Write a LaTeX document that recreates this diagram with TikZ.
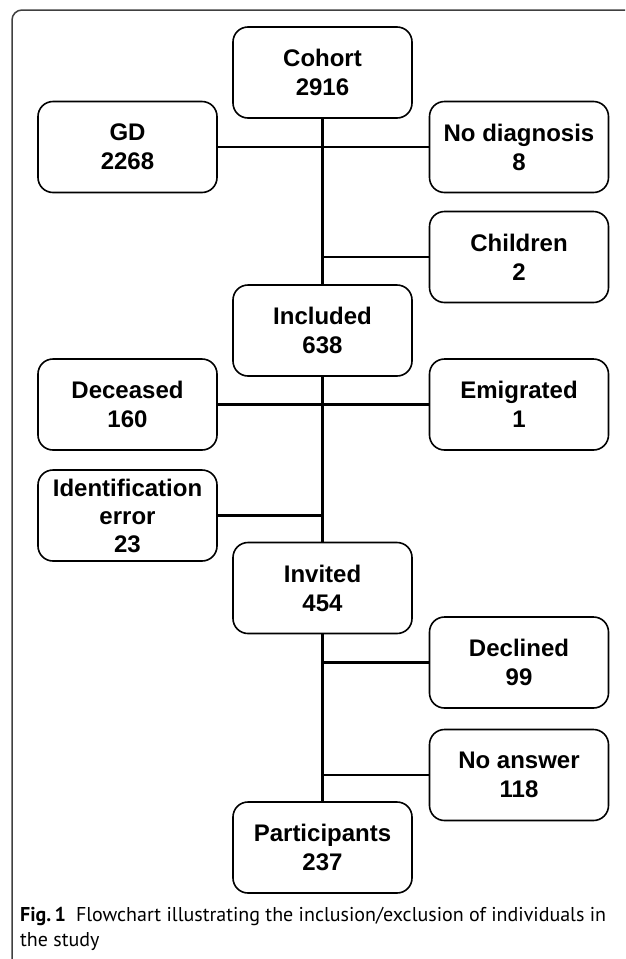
\documentclass[tikz,border=0pt]{standalone}
\usepackage{fontspec}
\setmainfont{Liberation Sans}
\newfontfamily\captionfont{PT Sans}
\usetikzlibrary{positioning}

\begin{document}
\begin{tikzpicture}[x=1pt, y=-1pt,
        box/.style={draw=black, line width=1.6pt, rounded corners=15pt,
            minimum width=179pt, minimum height=91pt, inner sep=0pt,
            align=center, font=\fontsize{24}{29}\selectfont\bfseries},
        link/.style={line width=2.4pt}]
      \useasboundingbox (0,0) rectangle (625,959);
      % outer frame, open on the right and at the bottom
      \draw[black!75, line width=1.5pt, rounded corners=10pt] (12,959) -- (12,10) -- (625,10);
      \node[box] (cohort) at (322.5,72.5) {Cohort\\2916};
      \node[box] (gd) at (127.5,147) {GD\\2268};
      \node[box] (nodiag) at (519,147) {No diagnosis\\8};
      \node[box] (children) at (519,257) {Children\\2};
      \node[box] (included) at (322.5,330.5) {Included\\638};
      \node[box] (deceased) at (127.5,404.5) {Deceased\\160};
      \node[box] (emigrated) at (519,404.5) {Emigrated\\1};
      \node[box, font=\fontsize{24}{28}\selectfont\bfseries] (iderror) at (127.5,515.5) {Identification\\error\\23};
      \node[box] (invited) at (322.5,588) {Invited\\454};
      \node[box] (declined) at (519,662.5) {Declined\\99};
      \node[box] (noanswer) at (519,775) {No answer\\118};
      \node[box] (participants) at (322.5,847.5) {Participants\\237};
      % main trunk
      \draw[link] (cohort) -- (included);
      \draw[link] (included) -- (invited);
      \draw[link] (invited) -- (participants);
      % exclusions
      \draw[link] (gd) -- (nodiag);
      \draw[link] (children.west) -- (children.west -| cohort.south);
      \draw[link] (deceased) -- (emigrated);
      \draw[link] (iderror.east) -- (iderror.east -| included.south);
      \draw[link] (declined.west) -- (declined.west -| invited.south);
      \draw[link] (noanswer.west) -- (noanswer.west -| invited.south);
      \node[anchor=base west, align=left, inner sep=0pt,
            font=\captionfont\fontsize{20}{25}\selectfont] (caption) at (20,946)
            {\textbf{Fig.\,1}\enspace Flowchart illustrating the inclusion/exclusion of individuals in\\the study};
    \end{tikzpicture}
\end{document}
